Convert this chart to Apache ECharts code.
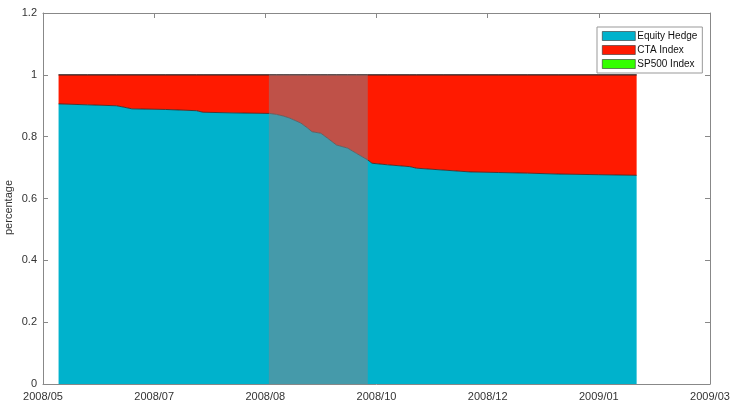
<!DOCTYPE html>
<html>
<head>
<meta charset="utf-8">
<script src="https://cdn.jsdelivr.net/npm/echarts@6/dist/echarts.min.js"></script>
<style>html,body{margin:0;padding:0;background:#fff;}#chart{width:732px;height:406px;}</style>
</head>
<body>
<div id="chart"></div>
<script>
// x range: first tick 2008-05-22, last tick 2009-03-18; ticks every 50 days
const axisStart = '2008-05-22';
const axisEnd = '2009-03-18';
const tickStepDays = 50;
const xTickLabels = ['2008/05','2008/07','2008/08','2008/10','2008/12','2009/01','2009/03'];
const dates = ['2008-05-29','2008-06-11','2008-06-24','2008-06-27','2008-07-01','2008-07-16','2008-07-30','2008-08-02','2008-08-15','2008-09-01','2008-09-04','2008-09-07','2008-09-10','2008-09-15','2008-09-18','2008-09-20','2008-09-24','2008-09-27','2008-10-01','2008-10-06','2008-10-10','2008-10-15','2008-10-17','2008-10-24','2008-11-03','2008-11-06','2008-11-18','2008-11-30','2008-12-13','2008-12-26','2009-01-09','2009-01-27','2009-02-13'];
const equityHedge = [0.906, 0.903, 0.900, 0.896, 0.890, 0.888, 0.884, 0.879, 0.877, 0.875, 0.872, 0.867, 0.860, 0.844, 0.828, 0.816, 0.811, 0.795, 0.773, 0.763, 0.746, 0.725, 0.714, 0.709, 0.703, 0.698, 0.692, 0.686, 0.684, 0.682, 0.679, 0.677, 0.675];
const ctaIndex = [0.094, 0.097, 0.100, 0.104, 0.110, 0.112, 0.116, 0.121, 0.123, 0.125, 0.128, 0.133, 0.140, 0.156, 0.172, 0.184, 0.189, 0.205, 0.227, 0.237, 0.254, 0.275, 0.286, 0.291, 0.297, 0.302, 0.308, 0.314, 0.316, 0.318, 0.321, 0.323, 0.325];
const sp500Index = [0,0,0,0,0,0,0,0,0,0,0,0,0,0,0,0,0,0,0,0,0,0,0,0,0,0,0,0,0,0,0,0,0];
// highlighted crisis window (start, end) and its height
const crisisPeriod = ['2008-08-31 14:00', '2008-10-15 02:00'];
const crisisLevel = [1, 1];
const seriesNames = ['Equity Hedge','CTA Index','SP500 Index'];

const DAY = 86400000;
const spanDays = Math.round((echarts.time.parse(axisEnd) - echarts.time.parse(axisStart)) / DAY);
const pairs = arr => dates.map((d, i) => [d, arr[i]]);
const font = 'Liberation Sans, Arial, sans-serif';
const edge = {color: '#2a2a2a', width: 0.8};
const axisGray = '#888';
const gridBox = {left: 43, right: 22, top: 13, bottom: 22, containLabel: false, outerBoundsMode: 'none'};
const frameAxis = {
  axisLine: {show: true, onZero: false, lineStyle: {color: axisGray}},
  axisTick: {show: true, inside: true, length: 5, lineStyle: {color: axisGray}},
  splitLine: {show: false}
};

const chart = echarts.init(document.getElementById('chart'), null, {renderer: 'canvas'});
chart.setOption({
  animation: false,
  backgroundColor: '#fff',
  grid: [Object.assign({}, gridBox), Object.assign({}, gridBox)],
  legend: {
    orient: 'vertical', left: 597, top: 27,
    data: seriesNames,
    icon: 'rect', itemWidth: 33, itemHeight: 9, itemGap: 2,
    backgroundColor: '#fff', borderColor: '#999', borderWidth: 1,
    padding: [3, 5, 3, 5],
    textStyle: {fontFamily: font, fontSize: 10, lineHeight: 12, color: '#111', padding: [0, 0, 0, -3]},
    itemStyle: {borderColor: '#333', borderWidth: 0.6}
  },
  xAxis: [{
    // data axis (dates), drawn invisibly
    type: 'time', gridIndex: 0, min: axisStart, max: axisEnd,
    axisLine: {show: false, onZero: false}, axisTick: {show: false},
    axisLabel: {show: false}, splitLine: {show: false}
  }, Object.assign({
    // tick axis in days from the first tick
    type: 'value', gridIndex: 1, position: 'bottom', min: 0, max: spanDays, interval: tickStepDays,
    axisLabel: {fontFamily: font, fontSize: 11, color: '#333', margin: 7,
      showMinLabel: true, showMaxLabel: true,
      formatter: v => xTickLabels[Math.round(v / tickStepDays)] || ''}
  }, frameAxis), Object.assign({
    type: 'value', gridIndex: 1, position: 'top', min: 0, max: spanDays, interval: tickStepDays,
    axisLabel: {show: false}
  }, frameAxis)],
  yAxis: [Object.assign({
    type: 'value', gridIndex: 0, position: 'left', min: 0, max: 1.2, interval: 0.2,
    name: 'percentage', nameLocation: 'middle', nameGap: 29, nameMoveOverlap: false,
    nameTextStyle: {fontFamily: font, fontSize: 11, color: '#333', padding: [0, 0, 0, -18]},
    axisLabel: {fontFamily: font, fontSize: 11, color: '#333', margin: 6,
      formatter: v => (Math.round(v * 10) / 10).toString()}
  }, frameAxis), Object.assign({
    type: 'value', gridIndex: 1, position: 'right', min: 0, max: 1.2, interval: 0.2,
    axisLabel: {show: false}
  }, frameAxis)],
  series: [{
    name: seriesNames[0], type: 'line', stack: 'total', xAxisIndex: 0, yAxisIndex: 0,
    showSymbol: false, symbol: 'none',
    data: pairs(equityHedge), itemStyle: {color: '#00B2CC'},
    lineStyle: edge, areaStyle: {color: '#00B2CC', opacity: 1}, z: 2
  }, {
    name: seriesNames[1], type: 'line', stack: 'total', xAxisIndex: 0, yAxisIndex: 0,
    showSymbol: false, symbol: 'none',
    data: pairs(ctaIndex), itemStyle: {color: '#FF1A00'},
    lineStyle: edge, areaStyle: {color: '#FF1A00', opacity: 1}, z: 2
  }, {
    name: seriesNames[2], type: 'line', stack: 'total', xAxisIndex: 0, yAxisIndex: 0,
    showSymbol: false, symbol: 'none',
    data: pairs(sp500Index), itemStyle: {color: '#33FF00'},
    lineStyle: edge, areaStyle: {color: '#33FF00', opacity: 1}, z: 3
  }, {
    name: 'crisis', type: 'line', xAxisIndex: 0, yAxisIndex: 0,
    showSymbol: false, symbol: 'none', silent: true,
    data: crisisPeriod.map((d, i) => [d, crisisLevel[i]]),
    lineStyle: {width: 0, opacity: 0},
    areaStyle: {color: 'rgba(132,132,138,0.52)', opacity: 1, origin: 'start'}, z: 5
  }]
});
</script>
</body>
</html>
